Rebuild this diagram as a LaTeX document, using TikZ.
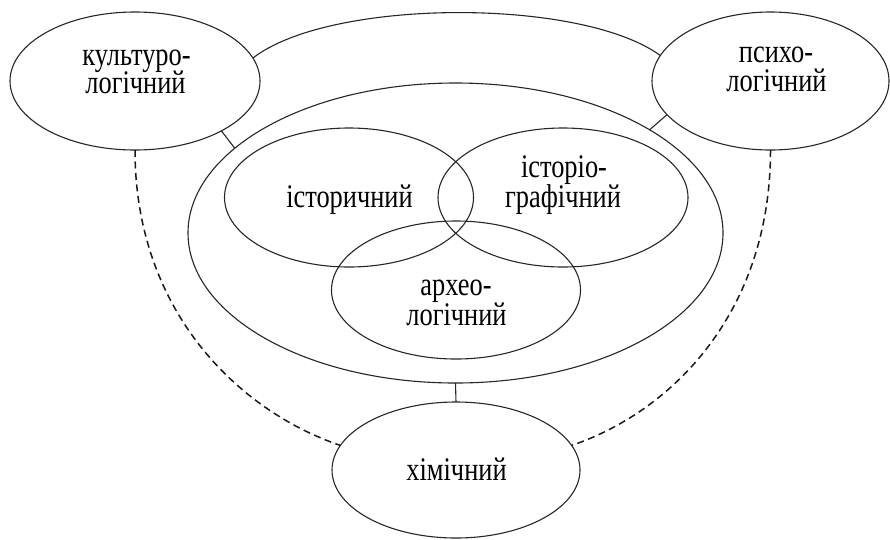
\documentclass[tikz,border=0pt]{standalone}
\usepackage{fontspec}
\newfontfamily\lblfont{Liberation Serif}[FakeStretch=0.8]
\usetikzlibrary{shapes.geometric}
\begin{document}
\begin{tikzpicture}[x=1pt,y=-1pt,
  oval/.style={ellipse,draw=black!85,line width=1.1pt,inner sep=0pt,outer sep=0pt},
  lbl/.style={anchor=base,inner sep=0pt,font=\lblfont\fontsize{33}{29}\selectfont,text=black},
  link/.style={draw=black!85,line width=1.1pt},
  dlink/.style={draw=black!90,line width=1.5pt,dash pattern=on 7pt off 4.5pt}]
\useasboundingbox (0,0) rectangle (890,539);
% ellipses
\node[oval,minimum width=250pt,minimum height=138pt] (kult) at (135,81) {};
\node[oval,minimum width=237pt,minimum height=138pt] (psych) at (770.5,81) {};
\node[oval,minimum width=535pt,minimum height=300pt] (big) at (455.5,233) {};
\node[oval,minimum width=249pt,minimum height=139pt] (hist) at (349,197.5) {};
\node[oval,minimum width=250pt,minimum height=139pt] (histgr) at (563,197.5) {};
\node[oval,minimum width=249pt,minimum height=138pt] (arch) at (456,290) {};
\node[oval,minimum width=248pt,minimum height=136pt] (chem) at (456,470) {};
% labels
\node[lbl] (kultA) at (136.5,65) {культуро-};
\node[lbl] (kultB) at (135.5,93) {логічний};
\node[lbl] (psychA) at (776,62) {психо-};
\node[lbl] (psychB) at (776.5,91) {логічний};
\node[lbl] (histT) at (349.5,207) {історичний};
\node[lbl] (histgrA) at (564,177) {історіо-};
\node[lbl] (histgrB) at (563,207) {графічний};
\node[lbl] (archA) at (456,295) {архео-};
\node[lbl] (archB) at (456.5,325) {логічний};
\node[lbl] (chemT) at (456.5,480) {хімічний};
% connectors
\draw[link] (kult.11) .. controls +(77,-60) and +(-79,-58) .. (psych.167);
\draw[link] (kult.-30) -- (big.159);
\draw[link] (psych.198) -- (big.28);
\draw[link] (big.south) -- (chem.north);
\draw[dlink] (kult.south) .. controls +(0,160) and +(-103,-35) .. (chem.168);
\draw[dlink] (psych.south) .. controls +(0,160) and +(103,-35) .. (chem.12);
\end{tikzpicture}
\end{document}
